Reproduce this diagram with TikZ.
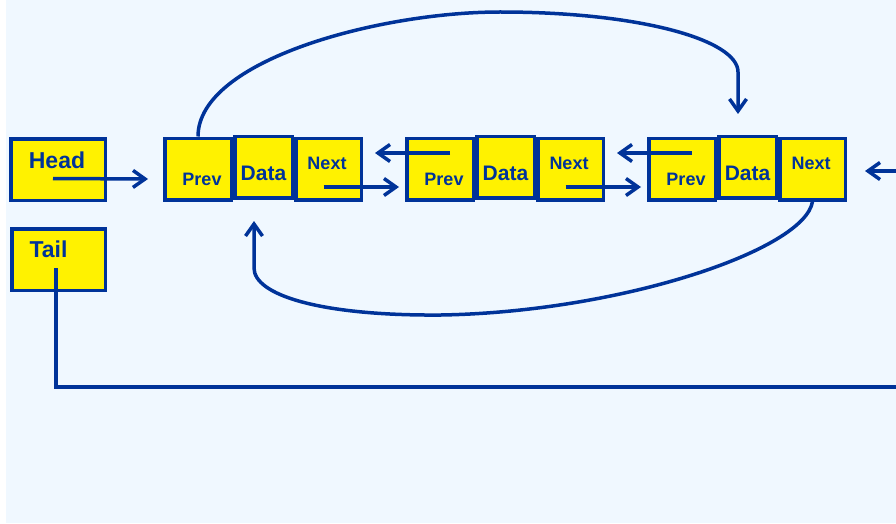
\documentclass[tikz,border=0pt]{standalone}
\usepackage{fontspec}
\setsansfont{Liberation Sans}
\usetikzlibrary{arrows.meta,calc}

\definecolor{lnblue}{HTML}{003399}
\definecolor{panel}{HTML}{F0F8FF}

\tikzset{
  cell/.style={draw=lnblue, fill=yellow, line width=3.5pt, inner sep=0pt, minimum height=61.5pt},
  lbl/.style={text=lnblue, inner sep=0pt, font=\sffamily\bfseries\fontsize{#1}{#1}\selectfont},
  link/.style={draw=lnblue, line width=3.5pt, -{Straight Barb[length=12pt, width=17pt, line width=3.5pt]}},
  wire/.style={draw=lnblue, line width=3.5pt}
}

\begin{document}
\begin{tikzpicture}[x=1pt, y=-1pt]
            % Fondo
            \useasboundingbox (0,0) rectangle (896,524);
            \fill[white] (0,0) rectangle (896,524);
            \fill[panel] (6,0) rectangle (896,523);

            % Head y Tail
            \node[cell, minimum width=94.5pt] (hd) at (58,169.5) {};
            \node[lbl=23] (hdt) at ($(hd.center)+(-1,-9.5)$) {Head};
            \node[cell, minimum width=93.5pt] (tl) at (58.5,259.5) {};
            \node[lbl=23] (tlt) at ($(tl.center)+(-10,-10)$) {Tail};

            % Nodos de la lista
            \foreach \i in {1,2,3} {
              \pgfmathsetmacro\L{163+242*(\i-1)}
              \node[cell, minimum width=66.5pt] (p\i) at (\L+35,169) {};
              \node[cell, minimum width=65.5pt] (n\i) at (\L+165.5,169) {};
              \node[cell, minimum width=57.5pt] (d\i) at (\L+100.5,167) {};
              \node[lbl=18] (pt\i) at ($(p\i.center)+(4,10)$) {Prev};
              \node[lbl=21] (dt\i) at ($(d\i.center)+(0,6)$) {Data};
              \node[lbl=18] (nt\i) at ($(n\i.center)+(-1.5,-6)$) {Next};
            }

            % Enlaces next / prev
            \foreach \i/\j in {1/2,2/3} {
              \draw[link] ($(n\i.center)+(-5,18)$) -- ($(p\j.west)+(-6,18)$);
              \draw[link] ($(p\j.center)+(10,-16)$) -- ($(n\i.east)+(12,-16)$);
            }

            % Head -> primer nodo
            \draw[link] ($(hd.center)+(-5,9)$) -- ($(p1.west)+(-15,10)$);

            % Flecha que entra por la derecha
            \coordinate (rin) at (896,171);
            \draw[link] (rin) -- ($(n3.east)+(18,2)$);

            % Curva superior: prev del primero -> ultimo
            \coordinate (top3) at (738,114);
            \draw[link] (p1.north) .. controls (198,60) and (380,12) .. (500,12)
              .. controls (640,12) and (738,40) .. (738,72) -- (top3);

            % Curva inferior: next del ultimo -> primero
            \coordinate (bot1) at (254,221);
            \draw[link] (n3.south) .. controls (805,250) and (620,312) .. (441,315)
              .. controls (320,316) and (254,295) .. (254,268) -- (bot1);

            % Tail
            \coordinate (tlend) at (896,387);
            \draw[wire] ($(tl.center)+(-2.5,8.5)$) |- (tlend);
        \end{tikzpicture}
\end{document}
